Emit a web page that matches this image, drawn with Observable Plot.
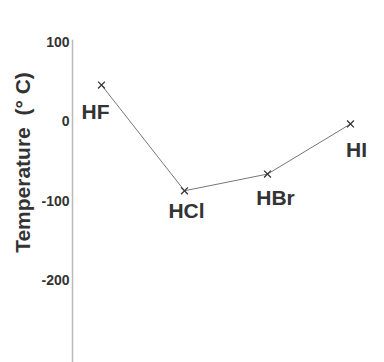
<!DOCTYPE html>
<html>
<head>
<meta charset="utf-8">
<script src="https://cdn.jsdelivr.net/npm/d3@7"></script>
<script src="https://cdn.jsdelivr.net/npm/@observablehq/plot@0.6"></script>
<style>
  html, body { margin: 0; padding: 0; background: #fff; }
  #chart svg { display: block; }
</style>
</head>
<body>
<div id="chart"></div>
<script>
const compounds = ["HF", "HCl", "HBr", "HI"];
const boilingPoints = [46, -87, -66, -3];
const yTicks = [100, 0, -100, -200];
const axisTitle = "Temperature\u00a0\u00a0(°\u00a0C)";

const data = compounds.map((name, i) => ({name, value: boilingPoints[i]}));

const font = "Liberation Sans, Arial, sans-serif";
const labelStyle = {fontSize: 21, fontWeight: "bold", fill: "#333", fontFamily: font, text: "name", x: "name", y: "value"};

const chart = Plot.plot({
  width: 384,
  height: 362,
  marginLeft: 72,
  marginRight: 0,
  marginTop: 40,
  marginBottom: 0,
  style: {fontFamily: font, background: "#fff"},
  x: {type: "point", domain: compounds, range: [100, 350], padding: 0, axis: null},
  y: {domain: [-303, 102], axis: null},
  marks: [
    Plot.frame({anchor: "left", stroke: "#bbb", strokeWidth: 1.5}),
    Plot.axisY({ticks: yTicks, tickSize: 0, tickPadding: 3, fontSize: 14, fontWeight: "bold", fill: "#333", label: null, tickFormat: d => d}),
    Plot.text([axisTitle], {frameAnchor: "left", dx: -49, dy: -39, rotate: -90, textAnchor: "middle", fontSize: 21, fontWeight: "bold", fill: "#333"}),
    Plot.line(data, {x: "name", y: "value", stroke: "#777", strokeWidth: 1}),
    Plot.dot(data, {x: "name", y: "value", symbol: "times", r: 3.2, stroke: "#333", strokeWidth: 1.3}),
    Plot.text(data.filter(d => d.name === "HF"), {...labelStyle, dx: -6, dy: 27}),
    Plot.text(data.filter(d => d.name === "HCl"), {...labelStyle, dx: 2, dy: 20}),
    Plot.text(data.filter(d => d.name === "HBr"), {...labelStyle, dx: 8, dy: 24}),
    Plot.text(data.filter(d => d.name === "HI"), {...labelStyle, dx: 6, dy: 26})
  ]
});
document.getElementById("chart").appendChild(chart);
</script>
</body>
</html>
